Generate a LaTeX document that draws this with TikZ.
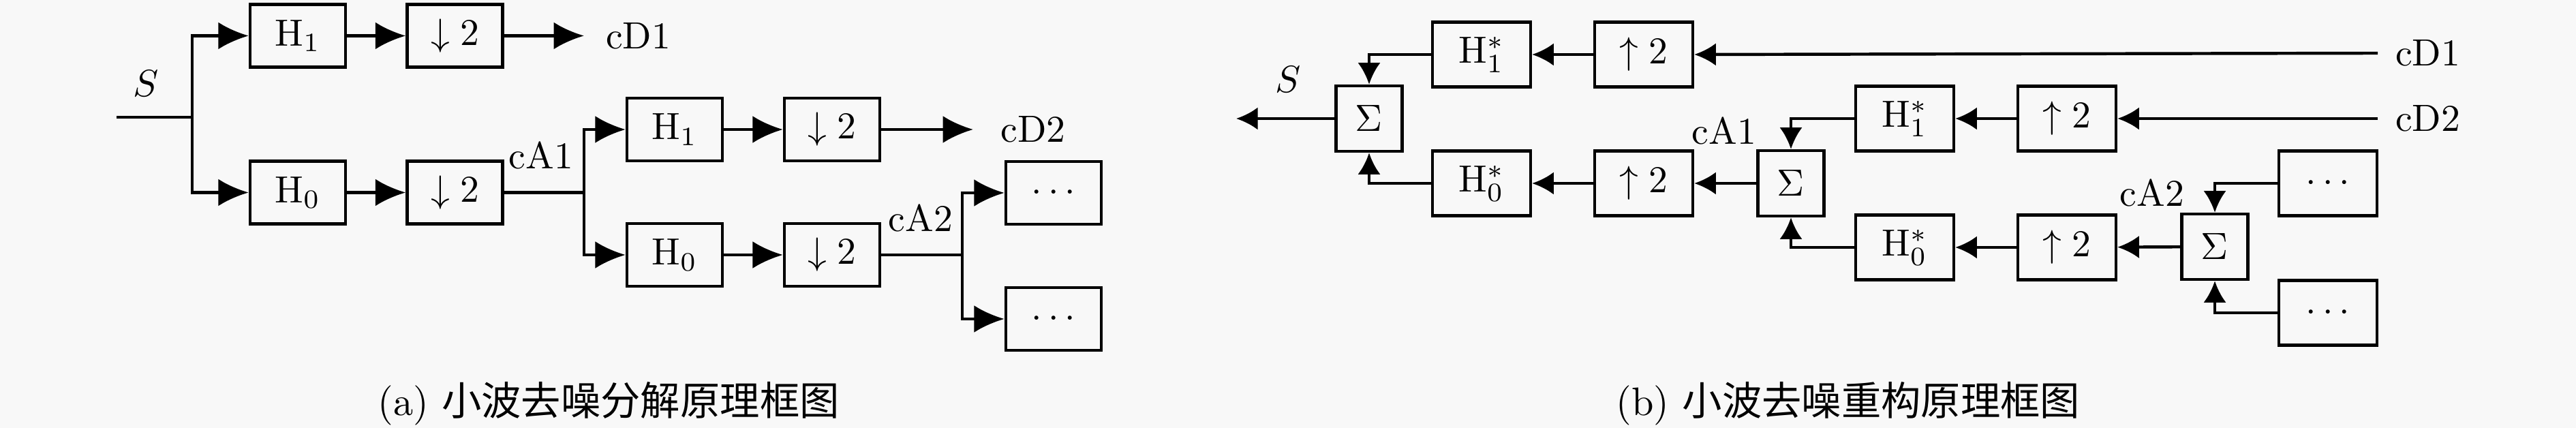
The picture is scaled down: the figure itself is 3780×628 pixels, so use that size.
\documentclass[tikz,border=0pt]{standalone}
\usepackage{fontspec}
\newfontfamily\cjk{Noto Sans CJK SC}
\usetikzlibrary{arrows.meta}
\definecolor{bgc}{RGB}{248,248,248}
\begin{document}
\begin{tikzpicture}[x=0.18pt,y=-0.18pt,
  line width=0.8pt,
  boxa/.style={draw,line width=0.8pt,minimum width=25.2pt,minimum height=16.56pt,inner sep=0pt,font=\fontsize{10}{12}\selectfont},
  boxb/.style={draw,line width=0.8pt,minimum width=25.92pt,minimum height=17.1pt,inner sep=0pt,font=\fontsize{10}{12}\selectfont},
  sigbox/.style={draw,line width=0.8pt,minimum width=17.46pt,minimum height=17.28pt,inner sep=0pt,font=\fontsize{10}{12}\selectfont},
  lbl/.style={inner sep=0pt,font=\fontsize{10}{12}\selectfont},
  captext/.style={inner sep=0pt,font=\fontsize{10.5}{13}\selectfont},
  arra/.style={-{Latex[length=8pt,width=7.2pt]}},
  arrb/.style={-{Latex[length=5.7pt,width=6pt]}}
]
\fill[bgc] (0,0) rectangle (3780,628);
\useasboundingbox (0,0) rectangle (3780,628);

% ---------------- (a) decomposition ----------------
\coordinate (Sin) at (171,172);
\coordinate (J1) at (282,172);
\node[lbl] (Sa) at (214,123) {$S$};
\node[boxa] (H1a) at (437,52.5) {$\mathrm{H}_1$};
\node[boxa] (D1a) at (667.5,52.5) {$\downarrow 2$};
\node[lbl,anchor=west,inner xsep=5.4pt] (cD1a) at (857,52.5) {cD1};
\node[boxa] (H0a) at (437,282.5) {$\mathrm{H}_0$};
\node[boxa] (D0a) at (667.5,282.5) {$\downarrow 2$};
\node[lbl] (cA1a) at (794,228) {cA1};
\coordinate (J2) at (857,282.5);
\node[boxa] (H1b) at (990,190) {$\mathrm{H}_1$};
\node[boxa] (D1b) at (1221,190) {$\downarrow 2$};
\node[lbl,anchor=west,inner xsep=6.9pt] (cD2a) at (1428,190) {cD2};
\node[boxa] (H0b) at (990,374) {$\mathrm{H}_0$};
\node[boxa] (D0b) at (1221,374) {$\downarrow 2$};
\node[lbl] (cA2a) at (1351,320) {cA2};
\coordinate (J3) at (1412,374);
\node[boxa] (Ea) at (1546,283) {$\cdots$};
\node[boxa] (Eb) at (1546,468) {$\cdots$};

\draw (Sin) -- (J1);
\draw[arra] (J1) |- (H1a.west);
\draw[arra] (J1) |- (H0a.west);
\draw[arra] (H1a) -- (D1a);
\draw[arra] (H0a) -- (D0a);
\draw[arra] (D1a.east) -- (cD1a.west);
\draw (D0a.east) -- (J2);
\draw[arra] (J2) |- (H1b.west);
\draw[arra] (J2) |- (H0b.west);
\draw[arra] (H1b) -- (D1b);
\draw[arra] (H0b) -- (D0b);
\draw[arra] (D1b.east) -- (cD2a.west);
\draw (D0b.east) -- (J3);
\draw[arra] (J3) |- (Ea.west);
\draw[arra] (J3) |- (Eb.west);

\node[captext] (capa) at (893,592) {(a) {\cjk 小波去噪分解原理框图}};

% ---------------- (b) reconstruction ----------------
\coordinate (Sout) at (1814,174);
\node[lbl] (Sb) at (1890,117) {$S$};
\node[sigbox] (Sig1) at (2009,174) {$\Sigma$};
\node[boxb] (Hs1a) at (2174,80) {$\mathrm{H}_1^*$};
\node[boxb] (U1a) at (2412,80) {$\uparrow 2$};
\node[lbl,anchor=west,inner xsep=4.3pt] (cD1b) at (3489,78) {cD1};
\node[boxb] (Hs0a) at (2174,269) {$\mathrm{H}_0^*$};
\node[boxb] (U0a) at (2412,269) {$\uparrow 2$};
\node[sigbox] (Sig2) at (2628,269) {$\Sigma$};
\node[lbl] (cA1b) at (2530,192) {cA1};
\node[boxb] (Hs1b) at (2795,174) {$\mathrm{H}_1^*$};
\node[boxb] (U1b) at (3033,174) {$\uparrow 2$};
\node[lbl,anchor=west,inner xsep=4.3pt] (cD2b) at (3489,174) {cD2};
\node[boxb] (Fa) at (3416,269) {$\cdots$};
\node[lbl] (cA2b) at (3158,283) {cA2};
\node[sigbox] (Sig3) at (3250,362) {$\Sigma$};
\node[boxb] (Hs0b) at (2795,363) {$\mathrm{H}_0^*$};
\node[boxb] (U0b) at (3033,363) {$\uparrow 2$};
\node[boxb] (Fb) at (3416,459) {$\cdots$};

\draw[arrb] (Sig1.west) -- (Sout);
\draw[arrb] (cD1b.west) -- (U1a.east);
\draw[arrb] (U1a) -- (Hs1a);
\draw[arrb] (Hs1a.west) -| (Sig1.north);
\draw[arrb] (U0a) -- (Hs0a);
\draw[arrb] (Hs0a.west) -| (Sig1.south);
\draw[arrb] (Sig2) -- (U0a);
\draw[arrb] (cD2b.west) -- (U1b.east);
\draw[arrb] (U1b) -- (Hs1b);
\draw[arrb] (Hs1b.west) -| (Sig2.north);
\draw[arrb] (Sig3) -- (U0b);
\draw[arrb] (U0b) -- (Hs0b);
\draw[arrb] (Hs0b.west) -| (Sig2.south);
\draw[arrb] (Fa.west) -| (Sig3.north);
\draw[arrb] (Fb.west) -| (Sig3.south);

\node[captext] (capb) at (2712,592) {(b) {\cjk 小波去噪重构原理框图}};
\end{tikzpicture}
\end{document}
